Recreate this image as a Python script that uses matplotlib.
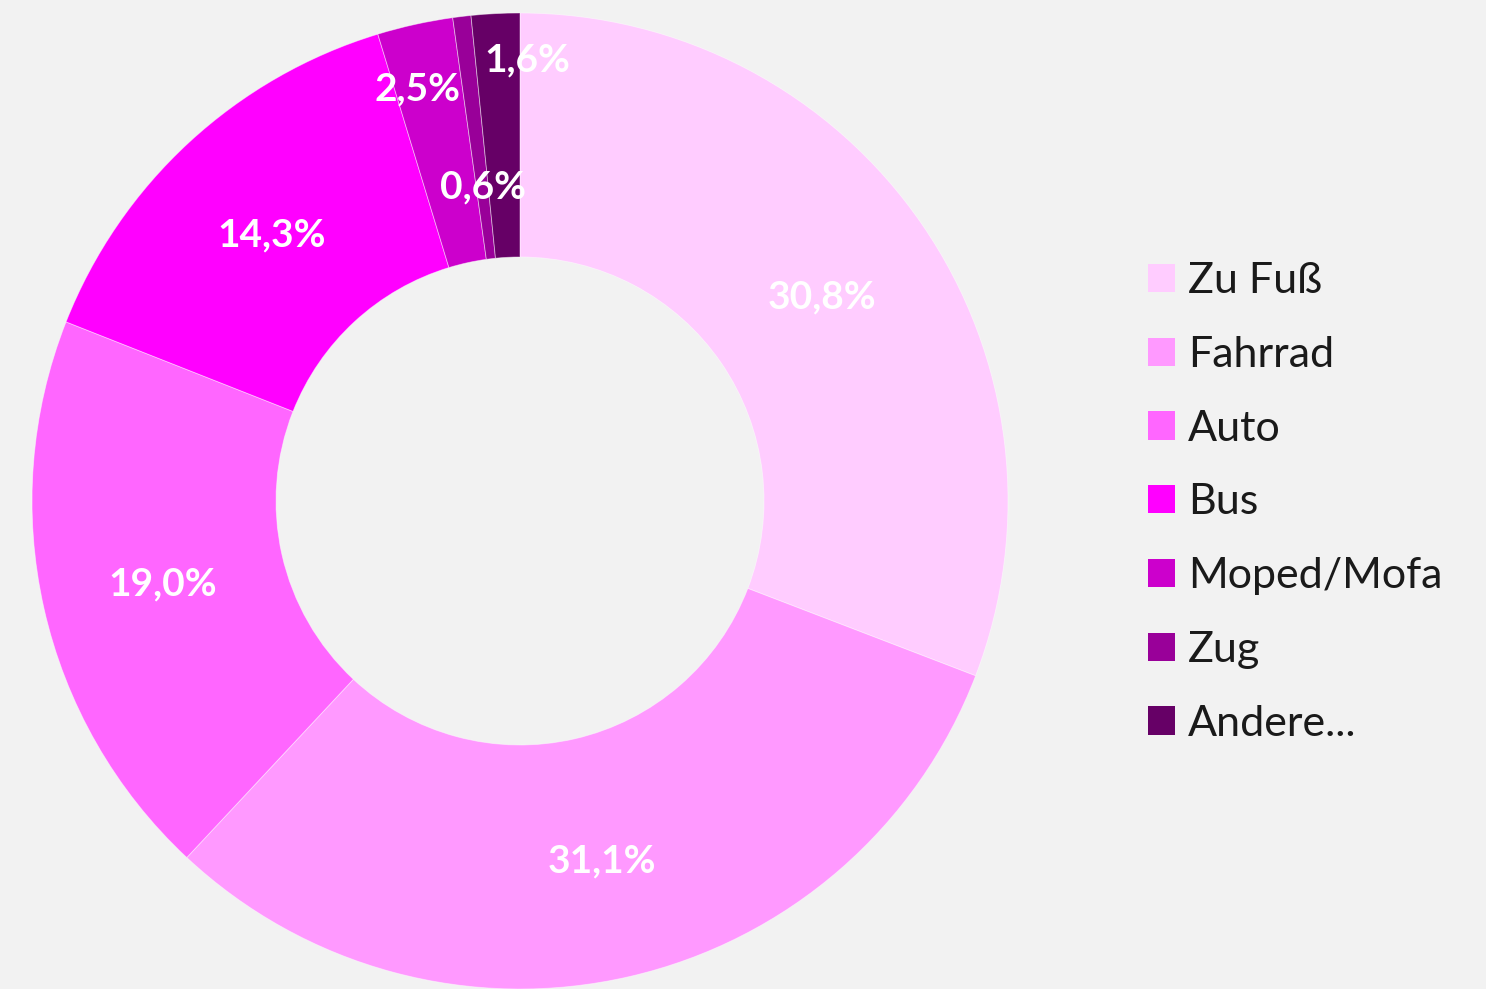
import numpy as np
import matplotlib
import matplotlib.pyplot as plt
from matplotlib.patches import Patch

matplotlib.rcParams['font.family'] = ['Lato', 'DejaVu Sans']

# Daten
categories = ['Zu Fuß', 'Fahrrad', 'Auto', 'Bus', 'Moped/Mofa', 'Zug', 'Andere...']
shares = [30.8, 31.1, 19.0, 14.3, 2.5, 0.6, 1.6]
labels = ['30,8%', '31,1%', '19,0%', '14,3%', '2,5%', '0,6%', '1,6%']
colors = ['#FFCCFF', '#FF99FF', '#FF66FF', '#FF00FF', '#CC00CC', '#990099', '#660066']
# Abstand der Beschriftung vom Mittelpunkt (Anteil am Außenradius)
label_dist = [0.75, 0.75, 0.75, 0.75, 0.875, 0.654, 0.91]
label_shift = [0, 0, 0, 0, 1.4, -0.2, -3.85]  # Winkelkorrektur in Grad

bg = '#F2F2F2'
W, H = 1486, 989
fig = plt.figure(figsize=(W / 100, H / 100), dpi=100, facecolor=bg)

cx, cy, R = 520, 488, 488
ax = fig.add_axes([(cx - R) / W, (cy - R) / H, 2 * R / W, 2 * R / H])
ax.set_facecolor(bg)

wedges, _ = ax.pie(shares, colors=colors, startangle=90, counterclock=False,
                   radius=1.0, wedgeprops=dict(width=0.5, edgecolor=(1, 1, 1, 0.5), linewidth=0.6))

total = sum(shares)
cum = 0.0
for val, lab, d, sh in zip(shares, labels, label_dist, label_shift):
    mid = 90 - (cum + val / 2) / total * 360 + sh
    cum += val
    ax.text(d * np.cos(np.radians(mid)), d * np.sin(np.radians(mid)), lab,
            ha='center', va='center_baseline', color='white', fontsize=28, fontweight='bold')

ax.set_xlim(-1, 1)
ax.set_ylim(-1, 1)
ax.set_aspect('equal')
ax.axis('off')

handles = [Patch(facecolor=c, edgecolor='none') for c in colors]
fig.legend(handles, categories, loc='center left', bbox_to_anchor=(1148 / W, 0.492),
           frameon=False, fontsize=31, handlelength=0.63, handleheight=0.63,
           handletextpad=0.3, labelspacing=0.83, borderpad=0, borderaxespad=0,
           labelcolor='#1a1a1a')

fig.savefig('out.png', dpi=100, facecolor=bg)
